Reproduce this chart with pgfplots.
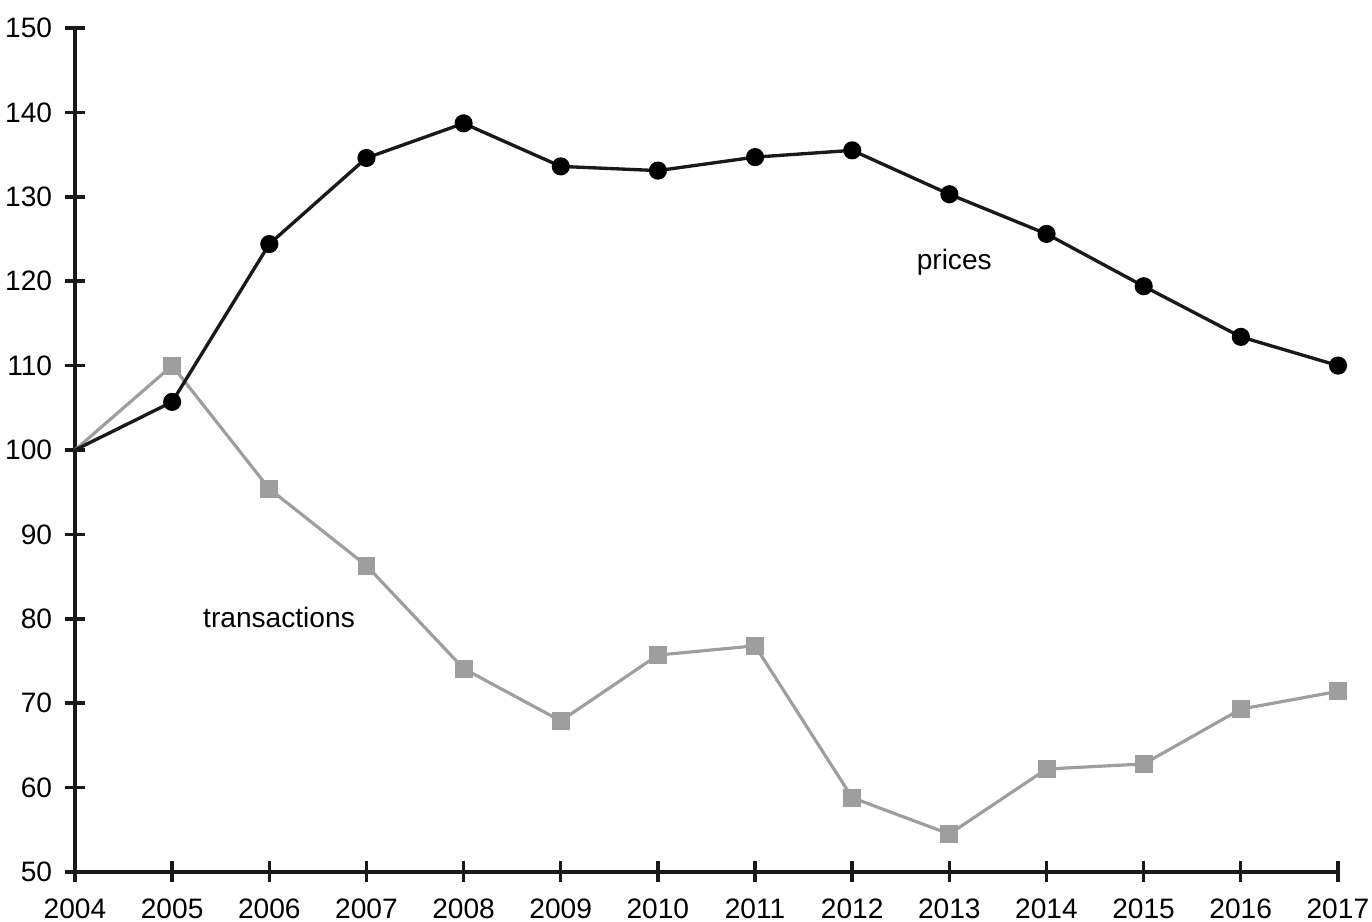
\documentclass[border=0pt]{standalone}
\usepackage{pgfplots}
\pgfplotsset{compat=1.18}
\usepackage{fontspec}
\setmainfont{Liberation Sans}
\definecolor{trgray}{RGB}{158,158,158}
\definecolor{prblack}{RGB}{25,25,25}

\begin{document}
\begin{tikzpicture}
\begin{axis}[
  scale only axis,
  width=12.63cm, height=8.44cm,
  xmin=2004, xmax=2017, ymin=50, ymax=150,
  xtick={2004,...,2017}, ytick={50,60,...,150},
  axis x line*=bottom, axis y line*=left,
  axis line style={line width=1pt, prblack, -},
  tick align=center,
  major tick length=0.21cm,
  tick style={line width=1pt, prblack},
  x tick label style={/pgf/number format/1000 sep={}},
  /pgf/number format/assume math mode=true,
  tick label style={font=\fontsize{8}{9.6}\selectfont},
  xticklabel style={yshift=-1pt},
  font=\fontsize{8}{9.6}\selectfont,
  clip=false,
]
\addplot[trgray, line width=0.9pt, mark=square*, mark size=2.1pt,
  mark options={fill=trgray, draw=trgray}, mark indices={2,...,14}] coordinates {
  (2004,100) (2005,110) (2006,95.4) (2007,86.3) (2008,74.1) (2009,67.9)
  (2010,75.7) (2011,76.8) (2012,58.8) (2013,54.5) (2014,62.2) (2015,62.8)
  (2016,69.3) (2017,71.4)};
\addplot[prblack, line width=0.95pt, mark=*, mark size=2.1pt,
  mark options={fill=black, draw=black}, mark indices={2,...,14}] coordinates {
  (2004,100) (2005,105.7) (2006,124.4) (2007,134.6) (2008,138.7) (2009,133.6)
  (2010,133.1) (2011,134.7) (2012,135.5) (2013,130.3) (2014,125.6) (2015,119.4)
  (2016,113.4) (2017,110)};
\node at (axis cs:2013.05,122.2) {prices};
\node at (axis cs:2006.1,80.2) {transactions};
\coordinate (ll) at (rel axis cs:0,0);
\coordinate (ur) at (rel axis cs:1,1);
\end{axis}
\pgfresetboundingbox
\path[use as bounding box] ([shift={(-0.75cm,-0.50cm)}]ll) rectangle ([shift={(0.34cm,0.28cm)}]ur);
\end{tikzpicture}
\end{document}
